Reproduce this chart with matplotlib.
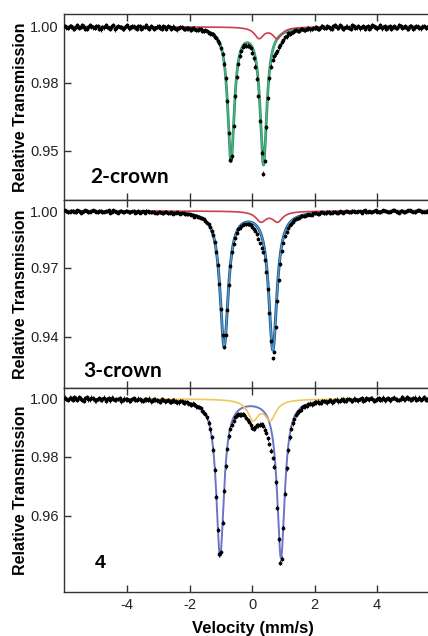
import numpy as np
import matplotlib
matplotlib.use("Agg")
import matplotlib.pyplot as plt

plt.rcParams['font.family'] = ['Liberation Sans', 'DejaVu Sans']
plt.rcParams['axes.unicode_minus'] = False

# channel velocities (mm/s): even channels and the ones in between
velocity_a = np.round(np.arange(-6.0, 5.61, 0.1), 2)
velocity_b = np.round(np.arange(-5.95, 5.56, 0.1), 2)

# measured transmission, 2-crown
trans_2crown_a = [
    1.0004, 0.9996, 1.0002, 0.9993, 1.0006, 0.9999, 1.0001, 0.9992, 1.0005, 0.9998,
    1.0003, 0.9994, 1.0000, 1.0007, 0.9996, 1.0002, 0.9991, 1.0004, 0.9999, 0.9995,
    1.0006, 0.9997, 1.0001, 0.9993, 1.0003, 0.9998, 1.0005, 0.9994, 1.0000, 0.9996,
    1.0002, 0.9992, 0.9999, 1.0003, 0.9994, 0.9997, 0.9991, 1.0000, 0.9993, 0.9995,
    0.9991, 0.9996, 0.9989, 0.9993, 0.9985, 0.9988, 0.9979, 0.9974, 0.9965, 0.9950,
    0.9925, 0.9869, 0.9735, 0.9526, 0.9647, 0.9822, 0.9897, 0.9929, 0.9933, 0.9932,
    0.9908, 0.9858, 0.9753, 0.9551, 0.9521, 0.9746, 0.9858, 0.9897, 0.9913, 0.9936,
    0.9954, 0.9966, 0.9976, 0.9981, 0.9988, 0.9986, 0.9993, 0.9989, 0.9995, 0.9992,
    0.9997,
    0.9994, 1.0001, 0.9997, 1.0004, 0.9995, 1.0002, 0.9998, 1.0006, 0.9993, 1.0001,
    0.9997, 1.0005, 0.9996, 1.0003, 0.9999, 0.9992, 1.0004, 0.9998, 1.0002, 0.9995,
    1.0006, 0.9999, 0.9994, 1.0003, 1.0000, 0.9996, 1.0005, 0.9997, 1.0002, 0.9993,
    1.0004, 0.9998, 1.0001, 0.9995, 1.0003, 0.9999,
]
trans_2crown_b = [
    0.9998, 1.0003, 0.9995, 1.0001, 0.9997, 1.0005, 0.9993, 0.9999, 1.0002, 0.9996,
    1.0004, 0.9991, 0.9998, 1.0001, 0.9994, 1.0006, 0.9997, 1.0000, 0.9993, 1.0003,
    0.9995, 1.0002, 0.9998, 1.0004, 0.9992, 0.9999, 0.9996, 1.0003, 0.9994, 1.0001,
    0.9997, 1.0002, 0.9993, 0.9998, 1.0001, 0.9992, 0.9996, 0.9999, 0.9994,
    0.9995, 0.9990, 0.9994, 0.9988, 0.9991, 0.9985, 0.9986, 0.9977, 0.9973, 0.9960,
    0.9941, 0.9903, 0.9816, 0.9622, 0.9538, 0.9752, 0.9868, 0.9914, 0.9935, 0.9933,
    0.9924, 0.9888, 0.9815, 0.9664, 0.9476, 0.9641, 0.9816, 0.9883, 0.9905, 0.9927,
    0.9947, 0.9963, 0.9977, 0.9979, 0.9987, 0.9986, 0.9992, 0.9989, 0.9994, 0.9991,
    0.9996,
    0.9998, 0.9993, 1.0003, 0.9996, 1.0000, 0.9994, 1.0005, 0.9997, 1.0002, 0.9995,
    1.0001, 0.9993, 1.0004, 0.9998, 0.9995, 1.0003, 0.9999, 0.9994, 1.0006, 0.9997,
    1.0001, 0.9995, 1.0003, 0.9998, 0.9993, 1.0002, 0.9996, 1.0004, 0.9999, 0.9995,
    1.0002, 0.9994, 1.0003, 0.9997, 1.0001, 0.9996,
]

# measured transmission, 3-crown
trans_3crown_a = [
    1.0003, 0.9994, 1.0001, 0.9997, 1.0005, 0.9992, 0.9999, 1.0002, 0.9995, 1.0004,
    0.9996, 1.0001, 0.9993, 0.9999, 1.0004, 0.9995, 0.9998, 0.9991, 1.0002, 0.9996,
    0.9999, 0.9993, 1.0001, 0.9996, 0.9990, 0.9998, 1.0002, 0.9994, 0.9997, 0.9991,
    0.9997, 0.9990, 0.9996, 0.9989, 0.9994, 0.9988, 0.9993, 0.9986, 0.9989, 0.9983,
    0.9984, 0.9977, 0.9976, 0.9966, 0.9962, 0.9946, 0.9930, 0.9895, 0.9836, 0.9718,
    0.9482, 0.9283, 0.9480, 0.9713, 0.9827, 0.9886, 0.9911, 0.9928, 0.9929, 0.9930,
    0.9915, 0.9896, 0.9855, 0.9807, 0.9742, 0.9587, 0.9315, 0.9258, 0.9525, 0.9721,
    0.9833, 0.9889, 0.9926, 0.9942, 0.9960, 0.9965, 0.9975, 0.9976, 0.9983, 0.9981,
    0.9987,
    0.9985, 0.9993, 0.9988, 0.9995, 0.9989, 0.9997, 0.9990, 0.9998, 0.9992, 0.9999,
    0.9993, 1.0001, 0.9995, 0.9999, 0.9991, 1.0003, 0.9996, 0.9994, 1.0002, 0.9997,
    0.9993, 1.0003, 0.9998, 0.9995, 1.0005, 0.9999, 0.9992, 1.0002, 0.9996, 1.0004,
    0.9998, 0.9994, 1.0003, 0.9999, 0.9995, 1.0002,
]
trans_3crown_b = [
    0.9999, 0.9995, 1.0002, 0.9993, 1.0000, 0.9997, 1.0004, 0.9994, 0.9998, 1.0001,
    0.9994, 1.0002, 0.9996, 0.9999, 0.9992, 1.0003, 0.9995, 0.9998, 0.9993, 1.0001,
    0.9994, 0.9998, 0.9992, 1.0000, 0.9995, 0.9991, 0.9998, 0.9993, 0.9996, 0.9989,
    0.9993, 0.9988, 0.9995, 0.9990, 0.9986, 0.9992, 0.9987, 0.9990, 0.9984,
    0.9986, 0.9980, 0.9971, 0.9969, 0.9963, 0.9957, 0.9938, 0.9917, 0.9873, 0.9786,
    0.9617, 0.9346, 0.9348, 0.9611, 0.9782, 0.9860, 0.9903, 0.9919, 0.9931, 0.9929,
    0.9926, 0.9906, 0.9879, 0.9831, 0.9782, 0.9679, 0.9462, 0.9224, 0.9387, 0.9635,
    0.9787, 0.9867, 0.9908, 0.9933, 0.9953, 0.9961, 0.9972, 0.9974, 0.9981, 0.9980,
    0.9987,
    0.9990, 0.9986, 0.9993, 0.9989, 0.9995, 0.9990, 0.9996, 0.9992, 0.9997, 0.9993,
    0.9998, 0.9994, 1.0001, 0.9995, 0.9998, 1.0002, 0.9993, 0.9999, 0.9996, 1.0003,
    0.9995, 0.9999, 1.0002, 0.9994, 0.9998, 1.0004, 0.9996, 1.0000, 0.9993, 1.0001,
    1.0003, 0.9996, 0.9999, 1.0004, 0.9997, 0.9995,
]

# measured transmission, 4
trans_4_a = [
    1.0001, 0.9993, 0.9999, 1.0003, 0.9994, 0.9998, 0.9991, 1.0002, 0.9995, 0.9999,
    0.9992, 1.0000, 0.9996, 0.9990, 0.9999, 1.0001, 0.9993, 0.9997, 0.9989, 0.9998,
    0.9996, 0.9991, 0.9999, 0.9993, 0.9997, 0.9990, 0.9995, 0.9998, 0.9991, 0.9994,
    0.9990, 0.9995, 0.9989, 0.9993, 0.9987, 0.9991, 0.9986, 0.9990, 0.9984, 0.9986,
    0.9980, 0.9981, 0.9972, 0.9970, 0.9957, 0.9946, 0.9916, 0.9868, 0.9757, 0.9553,
    0.9477, 0.9686, 0.9827, 0.9896, 0.9923, 0.9941, 0.9944, 0.9946, 0.9933, 0.9920,
    0.9898, 0.9902, 0.9908, 0.9912, 0.9893, 0.9863, 0.9821, 0.9767, 0.9628, 0.9441,
    0.9560, 0.9761, 0.9867, 0.9914, 0.9943, 0.9955, 0.9968, 0.9972, 0.9980, 0.9979,
    0.9985,
    0.9988, 0.9984, 0.9990, 0.9986, 0.9993, 0.9988, 0.9994, 0.9990, 0.9995, 0.9991,
    0.9997, 0.9990, 0.9996, 0.9992, 0.9999, 0.9993, 0.9997, 1.0000, 0.9991, 0.9998,
    0.9993, 1.0001, 0.9996, 0.9992, 1.0000, 0.9997, 0.9993, 1.0002, 0.9995, 0.9999,
    0.9994, 1.0001, 0.9997, 0.9993, 1.0002, 0.9996,
]
trans_4_b = [
    0.9997, 1.0001, 0.9994, 0.9998, 1.0002, 0.9993, 0.9999, 0.9995, 1.0001, 0.9992,
    0.9997, 0.9994, 1.0001, 0.9995, 0.9992, 0.9998, 0.9996, 1.0000, 0.9993, 0.9995,
    0.9992, 0.9997, 0.9994, 0.9998, 0.9992, 0.9996, 0.9993, 0.9989, 0.9996, 0.9992,
    0.9988, 0.9993, 0.9990, 0.9987, 0.9992, 0.9988, 0.9985, 0.9989, 0.9986,
    0.9982, 0.9978, 0.9979, 0.9970, 0.9966, 0.9950, 0.9935, 0.9894, 0.9825, 0.9665,
    0.9470, 0.9577, 0.9768, 0.9870, 0.9910, 0.9936, 0.9945, 0.9943, 0.9942, 0.9925,
    0.9909, 0.9895, 0.9907, 0.9910, 0.9906, 0.9882, 0.9844, 0.9797, 0.9714, 0.9521,
    0.9455, 0.9675, 0.9822, 0.9896, 0.9928, 0.9952, 0.9961, 0.9972, 0.9974, 0.9981,
    0.9980,
    0.9986, 0.9983, 0.9989, 0.9987, 0.9991, 0.9986, 0.9993, 0.9989, 0.9994, 0.9990,
    0.9996, 0.9992, 0.9998, 0.9993, 0.9997, 0.9991, 0.9999, 0.9995, 0.9998, 0.9993,
    1.0000, 0.9996, 0.9992, 0.9999, 0.9995, 1.0001, 0.9994, 0.9998, 0.9996, 1.0002,
    0.9995, 0.9999, 0.9993, 1.0001, 0.9997, 0.9994,
]

# fitted doublets: line positions (mm/s), depths, half widths
p1_main_pos = [-0.68, 0.36]
p1_main_depth = [0.0474, 0.0486]
p1_main_hw = 0.13
p1_minor_pos = [0.22, 0.80]
p1_minor_depth = [0.0039, 0.0039]
p1_minor_hw = 0.18

p2_main_pos = [-0.90, 0.66]
p2_main_depth = [0.0706, 0.0725]
p2_main_hw = 0.16
p2_minor_pos = [0.28, 0.81]
p2_minor_depth = [0.0053, 0.0053]
p2_minor_hw = 0.20

p3_main_pos = [-1.03, 0.92]
p3_main_depth = [0.0532, 0.0537]
p3_main_hw = 0.15
p3_minor_pos = [0.03, 0.58]
p3_minor_depth = [0.0066, 0.0066]
p3_minor_hw = 0.215

baselines = [1.0, 1.0, 0.9997]
sample_names = ['2-crown', '3-crown', '4']

ytick_pos = [[1.0, 0.98, 0.9557], [1.0, 0.97, 0.9337], [1.0, 0.98, 0.96]]
ytick_labels = [['1.00', '0.98', '0.95'], ['1.00', '0.97', '0.94'], ['1.00', '0.98', '0.96']]
ylims = [(0.9382, 1.0046), (0.9068, 1.0058), (0.9342, 1.0034)]
xticks = [-4, -2, 0, 2, 4]


def doublet(v, base, pos, depth, hw):
    y = np.full_like(v, base)
    for c, d in zip(pos, depth):
        y -= d / (1 + ((v - c) / hw) ** 2)
    return y


fig = plt.figure(figsize=(4.28, 6.36), dpi=100)
W, H = 428, 636
left = 64
boxes = [(14, 200), (200, 388), (388, 592)]
axes = []
for top, bot in boxes:
    ax = fig.add_axes([left / W, (H - bot) / H, (W - left) / W, (bot - top) / H])
    axes.append(ax)

vfine = np.linspace(-6.1, 5.8, 1500)
velocity = np.concatenate([velocity_a, velocity_b])
panels = [
    (trans_2crown_a + trans_2crown_b,
     (p1_main_pos, p1_main_depth, p1_main_hw), [('#2f8f66', 2.0), ('#4cb386', 1.0)],
     (p1_minor_pos, p1_minor_depth, p1_minor_hw), '#c9404c'),
    (trans_3crown_a + trans_3crown_b,
     (p2_main_pos, p2_main_depth, p2_main_hw), [('#23507f', 2.1), ('#4d9fd8', 1.0)],
     (p2_minor_pos, p2_minor_depth, p2_minor_hw), '#c9404c'),
    (trans_4_a + trans_4_b,
     (p3_main_pos, p3_main_depth, p3_main_hw), [('#6d74c6', 1.4)],
     (p3_minor_pos, p3_minor_depth, p3_minor_hw), '#f1c65a'),
]

for i, (ax, (data, main, main_styles, minor, minor_color)) in enumerate(zip(axes, panels)):
    base = baselines[i]
    for col, lw in main_styles:
        ax.plot(vfine, doublet(vfine, base, *main), color=col, lw=lw, zorder=2)
    ax.plot(vfine, doublet(vfine, base, *minor), color=minor_color, lw=1.2, zorder=2)
    ax.errorbar(velocity, data, yerr=0.0008, fmt='o', ms=1.7, color='black',
                elinewidth=0.6, capsize=0, zorder=3)
    ax.set_xlim(-6.03, 5.63)
    ax.set_ylim(*ylims[i])
    ax.set_yticks(ytick_pos[i], ytick_labels[i])
    ax.set_xticks(xticks)
    ax.tick_params(direction='in', length=5, width=1, top=True, right=False,
                   labelsize=10.5, colors='#333333', labelcolor='#222222', pad=4)
    for s in ['left', 'top', 'bottom']:
        ax.spines[s].set_color('#333333')
        ax.spines[s].set_linewidth(1.0)
    ax.spines['right'].set_visible(False)
    ax.set_ylabel('Relative Transmission', fontsize=11.5, fontweight='bold')
    ax.yaxis.set_label_coords(-0.10, 0.5)
    if i < 2:
        ax.tick_params(labelbottom=False)

axes[0].text(0.071, 0.091, sample_names[0], transform=axes[0].transAxes,
             fontsize=15, fontweight='bold', family=['Lato', 'DejaVu Sans'], va='baseline')
axes[1].text(0.052, 0.0585, sample_names[1], transform=axes[1].transAxes,
             fontsize=15, fontweight='bold', family=['Lato', 'DejaVu Sans'], va='baseline')
axes[2].text(0.085, 0.118, sample_names[2], transform=axes[2].transAxes,
             fontsize=14, fontweight='bold', va='baseline')

axes[2].set_xlabel('Velocity (mm/s)', fontsize=12, fontweight='bold')
axes[2].xaxis.set_label_coords(0.519, -0.14)

fig.savefig('out.png', dpi=100)
